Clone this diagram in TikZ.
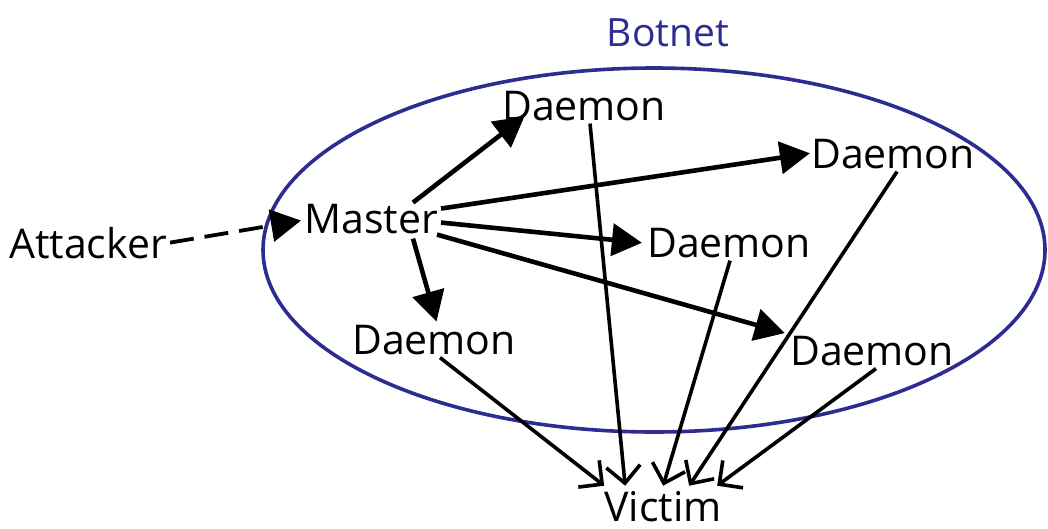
\documentclass[tikz,border=0pt]{standalone}
\usepackage{fontspec}
\setmainfont{Open Sans}
\usetikzlibrary{arrows.meta,calc}
\definecolor{botblue}{RGB}{44,44,145}
\begin{document}
\begin{tikzpicture}[x=1pt,y=-1pt,
  lbl/.style={font=\fontsize{41}{46}\selectfont, inner sep=3pt, anchor=base},
  cmd/.style={line width=4.6pt, -{Triangle[length=30pt,width=32pt]}, shorten >=-2pt},
  hit/.style={line width=3.6pt, -{Straight Barb[length=17pt,width=34pt,line width=3.6pt]}}]
\useasboundingbox (0,0) rectangle (1048,528);
\draw[botblue, line width=3.6pt] (654,250) ellipse [x radius=391, y radius=182];
\node[lbl, text=botblue, font=\fontsize{39}{44}\selectfont] (bn) at (668,46) {Botnet};
\node[lbl] (att) at (88,258) {Attacker};
\node[lbl] (m) at (371,233) {Master};
\node[lbl] (dt) at (584,120) {Daemon};
\node[lbl] (drt) at (893,168) {Daemon};
\node[lbl] (dm) at (729,257) {Daemon};
\node[lbl] (dbl) at (434,354) {Daemon};
\node[lbl] (dbr) at (872,365) {Daemon};
\node[lbl] (v) at (663,521) {Victim};
% attacker to master
\draw[line width=3.8pt, dash pattern=on 24pt off 11pt, -{Triangle[length=30pt,width=32pt]}] (att.east) -- ($(m.west)+(0,2)$);
% master to daemons
\draw[cmd] ($(m.north east)+(-28,2)$) -- ($(dt.south west)+(24,-6)$);
\draw[cmd] ($(m.east)+(0,-10)$) -- (drt.west);
\draw[cmd] ($(m.east)+(0,4)$) -- ($(dm.west)+(-4,0)$);
\draw[cmd] ($(m.south east)+(-4,-2)$) -- ($(dbr.north west)+(-4,0)$);
\draw[cmd] ($(m.south)+(42,2)$) -- ($(dbl.north)+(2,-2)$);
% daemons to victim
\draw[hit] ($(dbl.south)+(6,0)$) -- ($(v.north west)+(3,-2)$);
\draw[hit] ($(dt.south)+(6,0)$) -- ($(v.north west)+(24,-2)$);
\draw[hit] ($(dm.south)+(1,0)$) -- ($(v.north west)+(62,-2)$);
\draw[hit] ($(drt.south)+(4,0)$) -- ($(v.north west)+(88,-2)$);
\draw[hit] ($(dbr.south)+(4,0)$) -- ($(v.north west)+(116,-2)$);
\end{tikzpicture}
\end{document}
